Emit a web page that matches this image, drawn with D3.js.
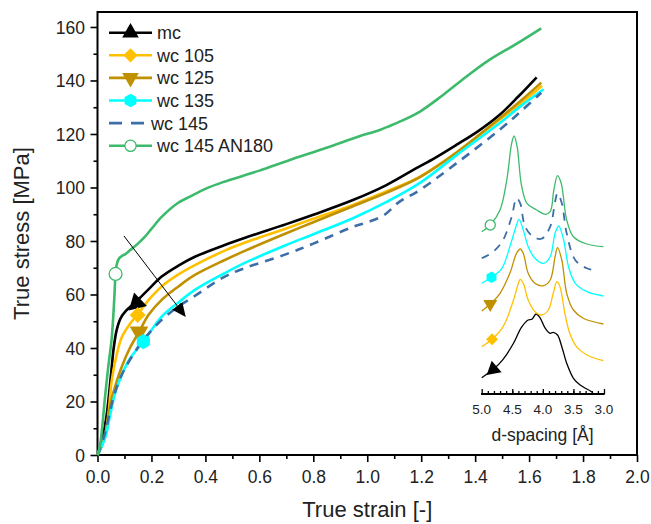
<!DOCTYPE html>
<html>
<head>
<meta charset="utf-8">
<script src="https://cdn.jsdelivr.net/npm/d3@7"></script>
<style>
  body { margin: 0; background: #fff; }
  svg text { font-family: "Liberation Sans", Arial, sans-serif; fill: #222; }
</style>
</head>
<body>
<div id="chart"></div>
<script>
'use strict';

// series names / colours
var seriesNames = ['mc', 'wc 105', 'wc 125', 'wc 135', 'wc 145', 'wc 145 AN180'];
var seriesColors = ['#000000', '#ffc000', '#bf9000', '#00ffff', '#3d6ea8', '#3dba6b'];
var seriesMarkers = ['triangle', 'diamond', 'triangleDown', 'hexagon', 'none', 'circle'];

// stress-strain curves [strain, stress MPa]
var mcData = [[0,0],[0.01,3],[0.02,7],[0.034,15],[0.05,30],[0.06,40],[0.071,46.7],[0.085,51],[0.102,53.5],[0.145,57.5],[0.19,62],[0.238,66.7],[0.30,70.8],[0.361,74.1],[0.472,78.5],[0.55,81.3],[0.70,86.3],[0.80,89.8],[0.947,95.3],[1.071,100.9],[1.182,107.2],[1.25,111],[1.33,115.9],[1.41,121],[1.49,127.1],[1.56,134],[1.628,141.2]];
var wc105Data = [[0,0],[0.01,2.5],[0.025,6],[0.04,15],[0.053,28],[0.07,37],[0.09,44],[0.12,49],[0.149,52.5],[0.19,58],[0.238,63],[0.30,67.5],[0.361,71],[0.472,76.4],[0.55,79.5],[0.70,84.7],[0.80,88.3],[0.947,93.5],[1.07,98.5],[1.194,104],[1.33,113],[1.49,125.3],[1.57,131.5],[1.648,138]];
var wc125Data = [[0,0],[0.01,2],[0.03,8],[0.05,20],[0.065,25.5],[0.09,33],[0.12,40],[0.154,46],[0.19,52.5],[0.238,58],[0.30,63],[0.361,67.3],[0.472,72.9],[0.55,76.5],[0.70,82.9],[0.80,87],[0.947,93],[1.07,98],[1.194,103.8],[1.33,113],[1.49,125.8],[1.57,132.5],[1.645,139.2]];
var wc135Data = [[0,0],[0.01,2],[0.03,7],[0.045,14],[0.065,23],[0.09,30],[0.12,36],[0.17,42.4],[0.238,51.7],[0.30,57],[0.361,61.7],[0.472,68],[0.55,72],[0.70,78.5],[0.80,82.5],[0.947,88.5],[1.07,94.5],[1.194,101.6],[1.33,112],[1.49,124],[1.57,130.5],[1.654,136.7]];
var wc145Data = [[0,0],[0.01,2.5],[0.03,9],[0.05,18],[0.07,25],[0.09,30],[0.113,34.4],[0.17,43],[0.238,50.5],[0.298,55.4],[0.361,59.5],[0.472,66.7],[0.55,70],[0.70,75.1],[0.80,79],[0.947,85.3],[1.0,87],[1.06,89.5],[1.12,94.7],[1.194,99],[1.33,109],[1.49,121.5],[1.57,128.5],[1.645,135.4]];
var an180Data = [[0,0],[0.01,4],[0.028,21.8],[0.04,33],[0.053,44],[0.062,58],[0.067,67.7],[0.072,71.5],[0.08,73.5],[0.092,74.5],[0.102,75],[0.12,76.5],[0.151,79.1],[0.176,81.6],[0.2,84.5],[0.238,89],[0.298,94.2],[0.343,96.6],[0.40,99.5],[0.465,102],[0.60,106.3],[0.713,110.3],[0.824,114],[0.96,118.8],[1.046,121.5],[1.083,123],[1.12,124.6],[1.194,128.3],[1.28,134.5],[1.367,141.4],[1.45,147.5],[1.55,153.5],[1.645,159.5]];
var mainSeries = [mcData, wc105Data, wc125Data, wc135Data, wc145Data, an180Data];
// marker position on each main curve [strain, stress]
var mainMarkers = [[0.145,56.8],[0.149,52.3],[0.154,46],[0.17,42.4],null,[0.067,67.7]];

// inset: d-spacing [A] vs offset intensity (a.u.)
var insetMc = [[5.0,16.3],[4.81,24.7],[4.65,34.7],[4.48,50.7],[4.35,66.7],[4.24,74],[4.18,74.7],[4.11,80],[4.05,76.7],[3.96,65.7],[3.88,60.7],[3.83,61.7],[3.76,59],[3.69,47.3],[3.61,30.7],[3.50,15.7],[3.39,9],[3.23,3.3],[3.18,1.5]];
var insetWc105 = [[5.0,47.3],[4.83,54.7],[4.65,67.3],[4.48,94],[4.40,110.7],[4.37,114.7],[4.32,110.7],[4.24,94],[4.13,82.3],[4.02,79],[3.91,84],[3.83,100.7],[3.77,112.3],[3.72,107.3],[3.64,80.7],[3.56,60.7],[3.45,47.3],[3.28,39],[3.01,33.3]];
var insetWc125 = [[5.0,83],[4.86,90],[4.70,100.7],[4.54,120.7],[4.43,140.7],[4.37,145],[4.32,140.7],[4.24,120.7],[4.13,110.7],[3.99,108.3],[3.88,114],[3.80,137.3],[3.76,146.3],[3.69,134],[3.61,100.7],[3.50,84],[3.34,75.7],[3.01,70]];
var insetWc135 = [[5.0,110.7],[4.84,116.7],[4.67,125.7],[4.54,147.3],[4.44,167.3],[4.39,174.7],[4.32,164],[4.24,147.3],[4.13,135.7],[3.99,130.7],[3.88,137.3],[3.80,160.7],[3.74,168],[3.66,154],[3.58,127.3],[3.47,110.7],[3.28,102.3],[3.01,98]];
var insetWc145 = [[5.0,135.7],[4.81,142.3],[4.65,154],[4.51,177.3],[4.43,195.7],[4.37,190.7],[4.29,167.3],[4.16,157.3],[4.02,155.3],[3.88,167.3],[3.80,192.3],[3.76,200.7],[3.69,190.7],[3.61,160.7],[3.47,134],[3.28,125.7],[3.11,123.3]];
var insetAn180 = [[5.0,162.3],[4.86,169],[4.70,184],[4.59,214],[4.51,250.7],[4.47,258],[4.42,247.3],[4.35,209],[4.26,190.7],[4.10,184],[3.96,179.7],[3.88,182.3],[3.82,204],[3.76,218.3],[3.70,210.7],[3.61,174],[3.50,157.3],[3.28,150],[3.01,147.3]];
var insetSeries = [insetMc, insetWc105, insetWc125, insetWc135, insetWc145, insetAn180];
var insetMarkers = [[4.81,24.7],[4.83,54.7],[4.86,90],[4.84,116.7],null,[4.86,169]];

// ticks
var xTicks = [0, 0.2, 0.4, 0.6, 0.8, 1.0, 1.2, 1.4, 1.6, 1.8, 2.0];
var yTicks = [0, 20, 40, 60, 80, 100, 120, 140, 160];
var insetTicks = [5.0, 4.5, 4.0, 3.5, 3.0];

// arrow annotation [strain, stress]
var arrowFrom = [0.098, 81.9];
var arrowTo = [0.324, 52];

var width = 651, height = 524;
var margin = {left: 97.5, right: 14, top: 12, bottom: 69};

var svg = d3.select('#chart').append('svg')
    .attr('width', width)
    .attr('height', height);

var x = d3.scaleLinear().domain([0, 2]).range([margin.left, width - margin.right]);
var y = d3.scaleLinear().domain([0, 165.6]).range([height - margin.bottom, margin.top]);

var symbolFor = function(kind, size){
    if (kind === 'hexagon') {
        var r = Math.sqrt(size / 2.6);
        var pts = d3.range(6).map(function(i){
            var a = Math.PI / 6 + i * Math.PI / 3;
            return [r * Math.cos(a), r * Math.sin(a)];
        });
        return 'M' + pts.join('L') + 'Z';
    }
    if (kind === 'diamond') return d3.symbol(d3.symbolSquare, size * 0.85)();
    if (kind === 'circle') return d3.symbol(d3.symbolCircle, size)();
    return d3.symbol(d3.symbolTriangle, size)();
};

// angle (deg) so an upward triangle points from p1 towards p0 (screen coords)
var headingAngle = function(p0, p1){
    var dx = p0[0] - p1[0], dy = p0[1] - p1[1];
    return Math.atan2(dy, dx) * 180 / Math.PI + 90;
};

var drawMarker = function(g, kind, cx, cy, color, size, angle){
    if (kind === 'none') return;
    var p = g.append('path')
        .attr('d', symbolFor(kind, size));
    var t = 'translate(' + cx + ',' + cy + ')';
    if (angle !== undefined) t += ' rotate(' + angle + ')';
    else if (kind === 'triangleDown') t += ' rotate(180)';
    else if (kind === 'diamond') t += ' rotate(45)';
    p.attr('transform', t);
    if (kind === 'circle') {
        p.attr('fill', '#fff').attr('stroke', color).attr('stroke-width', 1.3);
    } else {
        p.attr('fill', color);
    }
};

// axes
var xAxis = d3.axisBottom(x).tickValues(xTicks).tickFormat(d3.format('.1f')).tickSize(7).tickSizeOuter(0);
var yAxis = d3.axisLeft(y).tickValues(yTicks).tickFormat(d3.format('d')).tickSize(7).tickSizeOuter(0);
var xMinor = d3.axisBottom(x).tickValues(d3.range(0.1, 2, 0.2)).tickFormat('').tickSize(4).tickSizeOuter(0);
var yMinor = d3.axisLeft(y).tickValues(d3.range(10, 170, 20)).tickFormat('').tickSize(4).tickSizeOuter(0);

var gx = svg.append('g').attr('transform', 'translate(0,' + y(0) + ')').call(xAxis);
svg.append('g').attr('transform', 'translate(0,' + y(0) + ')').call(xMinor);
var gy = svg.append('g').attr('transform', 'translate(' + x(0) + ',0)').call(yAxis);
svg.append('g').attr('transform', 'translate(' + x(0) + ',0)').call(yMinor);
svg.selectAll('.domain').remove();
svg.selectAll('.tick line').attr('stroke', '#000').attr('stroke-width', 1.6);
gx.selectAll('text').attr('font-size', 17.5).attr('dy', '1.05em').attr('fill', '#222');
gy.selectAll('text').attr('font-size', 17.5).attr('dx', '-0.15em').attr('dy', '0.35em').attr('fill', '#222');

// frame
svg.append('rect')
    .attr('x', x(0)).attr('y', margin.top)
    .attr('width', x(2) - x(0)).attr('height', y(0) - margin.top)
    .attr('fill', 'none').attr('stroke', '#000').attr('stroke-width', 2);

// titles
svg.append('text')
    .attr('x', (x(0) + x(2)) / 2).attr('y', 517)
    .attr('text-anchor', 'middle').attr('font-size', 22)
    .text('True strain [-]');
svg.append('text')
    .attr('transform', 'translate(29,' + ((y(0) + margin.top) / 2) + ') rotate(-90)')
    .attr('text-anchor', 'middle').attr('font-size', 22)
    .text('True stress [MPa]');

// main curves
var line = d3.line()
    .x(function(d){ return x(d[0]); })
    .y(function(d){ return y(d[1]); })
    .curve(d3.curveCatmullRom.alpha(0.5));

var gLines = svg.append('g');
mainSeries.forEach(function(data, i){
    gLines.append('path')
        .datum(data)
        .attr('d', line)
        .attr('fill', 'none')
        .attr('stroke', seriesColors[i])
        .attr('stroke-width', 2.6)
        .attr('stroke-dasharray', i === 4 ? '9,7' : null);
});
mainSeries.forEach(function(data, i){
    var m = mainMarkers[i];
    if (!m) return;
    var angle;
    if (i === 0) {
        // mc marker is drawn as an arrowhead pointing back along the curve
        var k = d3.bisector(function(d){ return d[0]; }).left(data, m[0]);
        angle = headingAngle([x(data[k - 1][0]), y(data[k - 1][1])], [x(data[k + 1][0]), y(data[k + 1][1])]);
    }
    drawMarker(svg, seriesMarkers[i], x(m[0]), y(m[1]), seriesColors[i], i === 5 ? 130 : 150, angle);
});

// arrow
var defs = svg.append('defs');
defs.append('marker')
    .attr('id', 'arrowHead')
    .attr('viewBox', '0 0 10 10')
    .attr('refX', 9).attr('refY', 5)
    .attr('markerWidth', 14).attr('markerHeight', 14)
    .attr('markerUnits', 'userSpaceOnUse')
    .attr('orient', 'auto')
    .append('path')
    .attr('d', 'M0,0.5L10,5L0,9.5Z')
    .attr('fill', '#000');
svg.append('line')
    .attr('x1', x(arrowFrom[0])).attr('y1', y(arrowFrom[1]))
    .attr('x2', x(arrowTo[0])).attr('y2', y(arrowTo[1]))
    .attr('stroke', '#000').attr('stroke-width', 1)
    .attr('marker-end', 'url(#arrowHead)');

// legend
var legend = svg.append('g');
seriesNames.forEach(function(name, i){
    var ly = 32.7 + i * 22.6;
    var item = legend.append('g');
    if (i === 4) {
        item.append('line')
            .attr('x1', 109).attr('x2', 152).attr('y1', ly).attr('y2', ly)
            .attr('stroke', seriesColors[i]).attr('stroke-width', 2.6)
            .attr('stroke-dasharray', '13,9');
    } else {
        item.append('line')
            .attr('x1', 109).attr('x2', 152).attr('y1', ly).attr('y2', ly)
            .attr('stroke', seriesColors[i]).attr('stroke-width', 2.6);
        drawMarker(item, seriesMarkers[i], 130.5, ly, seriesColors[i], i === 5 ? 100 : 120);
    }
    item.append('text')
        .attr('x', i === 4 ? 151 : 157).attr('y', ly).attr('dy', '0.36em')
        .attr('font-size', 18)
        .text(name);
});

// inset
var ix = d3.scaleLinear().domain([5, 3]).range([481.7, 604]);
var iy = d3.scaleLinear().domain([0, 270]).range([394, 124]);

var inset = svg.append('g');
var iAxis = d3.axisTop(ix).tickValues(insetTicks).tickFormat('').tickSize(5).tickSizeOuter(0);
var iMinor = d3.axisTop(ix).tickValues(d3.range(3.1, 5, 0.1)).tickFormat('').tickSize(3).tickSizeOuter(0);
inset.append('g').attr('transform', 'translate(0,394)').call(iMinor);
inset.append('g').attr('transform', 'translate(0,394)').call(iAxis);
inset.selectAll('.domain').remove();
inset.selectAll('.tick line').attr('stroke', '#000').attr('stroke-width', 1.3);
inset.append('line')
    .attr('x1', ix(5) - 0.7).attr('x2', ix(3) + 0.7).attr('y1', 394).attr('y2', 394)
    .attr('stroke', '#000').attr('stroke-width', 1.8);
inset.selectAll('.ilabel')
    .data(insetTicks)
    .enter()
    .append('text')
    .attr('class', 'ilabel')
    .attr('x', function(d){ return ix(d); })
    .attr('y', 414)
    .attr('text-anchor', 'middle')
    .attr('font-size', 13.5)
    .text(d3.format('.1f'));
inset.append('text')
    .attr('x', 542.5).attr('y', 441)
    .attr('text-anchor', 'middle').attr('font-size', 17.5)
    .text('d-spacing [\u00c5]');

var iline = d3.line()
    .x(function(d){ return ix(d[0]); })
    .y(function(d){ return iy(d[1]); })
    .curve(d3.curveCatmullRom.alpha(0.5));

insetSeries.forEach(function(data, i){
    inset.append('path')
        .datum(data)
        .attr('d', iline)
        .attr('fill', 'none')
        .attr('stroke', seriesColors[i])
        .attr('stroke-width', i === 4 ? 1.8 : 1.3)
        .attr('stroke-dasharray', i === 4 ? '8,7' : null);
    var m = insetMarkers[i];
    if (!m) return;
    var angle;
    if (i === 0) {
        angle = headingAngle([ix(data[0][0]), iy(data[0][1])], [ix(data[2][0]), iy(data[2][1])]);
    }
    drawMarker(inset, seriesMarkers[i], ix(m[0]), iy(m[1]), seriesColors[i], i === 5 ? 80 : (i === 0 ? 100 : 85), angle);
});
</script>
</body>
</html>
